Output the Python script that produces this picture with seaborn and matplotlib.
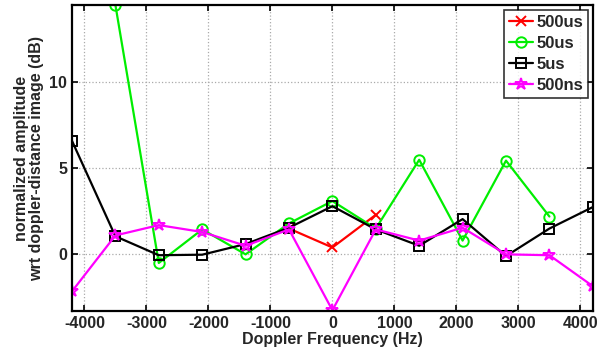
import numpy as np
import pandas as pd
import seaborn as sns
import matplotlib.pyplot as plt

freq = [-4200, -3500, -2800, -2100, -1400, -700, 0, 700, 1400, 2100, 2800, 3500, 4200]

amp_500us = [np.nan, np.nan, np.nan, np.nan, np.nan, 1.5, 0.4, 2.3, np.nan, np.nan, np.nan, np.nan, np.nan]
amp_50us = [np.nan, 14.5, -0.5, 1.45, 0.0, 1.8, 3.1, 1.5, 5.5, 0.8, 5.45, 2.2, np.nan]
amp_5us = [6.6, 1.05, -0.05, -0.02, 0.6, 1.55, 2.8, 1.45, 0.5, 2.05, -0.1, 1.5, 2.75]
amp_500ns = [-2.15, 1.1, 1.7, 1.3, 0.5, 1.45, -3.25, 1.45, 0.8, 1.55, 0.0, -0.05, -1.85]

series = [
    ("500us", amp_500us, "red", "x", "red"),
    ("50us", amp_50us, "#00ee00", "o", "none"),
    ("5us", amp_5us, "black", "s", "none"),
    ("500ns", amp_500ns, "magenta", "*", "none"),
]

sns.set_theme(style="white")
plt.rcParams["font.family"] = ["Liberation Sans", "DejaVu Sans"]
plt.rcParams["font.weight"] = "bold"
plt.rcParams["axes.labelweight"] = "bold"
plt.rcParams["axes.unicode_minus"] = False

fig = plt.figure(figsize=(6, 3.58), dpi=100)
ax = fig.add_axes([0.12, 0.131, 0.868, 0.855])

for name, vals, col, mk, mfc in series:
    d = pd.DataFrame({"f": freq, "a": vals}).dropna()
    sns.lineplot(data=d, x="f", y="a", ax=ax, color=col, marker=mk,
                 markersize=9 if mk == "*" else 7.5,
                 markerfacecolor=mfc, markeredgecolor=col, markeredgewidth=1.4,
                 linewidth=1.6, label=name, sort=False)

ax.set_xlim(-4200, 4200)
ax.set_ylim(-3.3, 14.5)
ax.set_xticks(np.arange(-4000, 4001, 1000))
ax.set_yticks([0, 5, 10])
ax.grid(True, linestyle=":", color="#aaaaaa", linewidth=0.9)
ax.tick_params(direction="in", top=True, right=True, length=4, width=1.2,
               labelsize=11.5, color="black", bottom=True, left=True)
for lab in ax.get_xticklabels() + ax.get_yticklabels():
    lab.set_fontweight("bold")
for sp in ax.spines.values():
    sp.set_color("black")
    sp.set_linewidth(1.6)

ax.set_xlabel("Doppler Frequency (Hz)", fontsize=11.5, fontweight="bold", labelpad=1)
ax.set_ylabel("normalized amplitude\nwrt doppler-distance image (dB)", fontsize=11.5,
              fontweight="bold", labelpad=4, linespacing=1.0)

leg = ax.legend(loc="upper right", frameon=True, fancybox=False, fontsize=12,
                handlelength=1.4, handletextpad=0.2, borderpad=0.3, labelspacing=0.35,
                borderaxespad=0.3)
leg.get_frame().set_edgecolor("black")
leg.get_frame().set_linewidth(1.2)
for t in leg.get_texts():
    t.set_fontweight("bold")

fig.savefig("out.png", dpi=100)
